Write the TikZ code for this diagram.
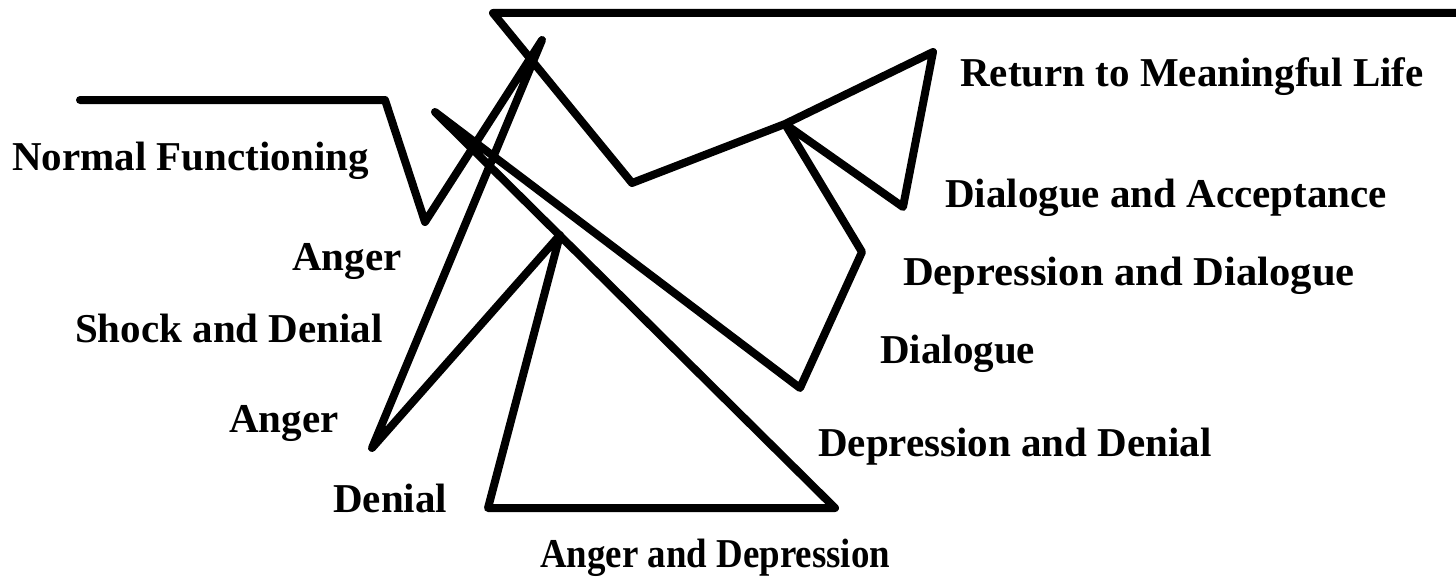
\documentclass[tikz,border=0pt]{standalone}
\usepackage{fontspec}
\setmainfont{Liberation Serif}
\begin{document}
\begin{tikzpicture}[x=1pt,y=-1pt,
  curve/.style={line width=8pt,line join=round,line cap=round},
  lbl/.style={anchor=base west,inner sep=0pt,font=\fontsize{41}{45}\selectfont\bfseries}]
\useasboundingbox (0,0) rectangle (1456,578);
% path points
\coordinate (p1) at (80,100);
\coordinate (p2) at (385,100);
\coordinate (p3) at (425,222);
\coordinate (p4) at (542,40);
\coordinate (p5) at (372,448);
\coordinate (p6) at (560,235);
\coordinate (p7) at (488,508);
\coordinate (p8) at (835,508);
\coordinate (p9) at (435,112);
\coordinate (p10) at (800,388);
\coordinate (p11) at (862,252);
\coordinate (p12) at (785,124);
\coordinate (p13) at (903,207);
\coordinate (p14) at (933,52);
\coordinate (p15) at (632,183);
\coordinate (p16) at (493,13);
\coordinate (p17) at (1460,13);
\draw[curve] (p1) -- (p2) -- (p3) -- (p4) -- (p5) -- (p6) -- (p7) -- (p8)
  -- (p9) -- (p10) -- (p11) -- (p12) -- (p13) -- (p14) -- (p12) -- (p15)
  -- (p16) -- (p17);
% labels
\node[lbl] (l1) at (960,86) {Return to Meaningful Life};
\node[lbl] (l2) at (12,170) {Normal Functioning};
\node[lbl] (l3) at (945,207) {Dialogue and Acceptance};
\node[lbl] (l4) at (292,270) {Anger};
\node[lbl] (l5) at (903,285) {\scalebox{1.04}[1]{Depression and Dialogue}};
\node[lbl] (l6) at (75,342) {Shock and Denial};
\node[lbl] (l7) at (880,363) {Dialogue};
\node[lbl] (l8) at (229,432) {Anger};
\node[lbl] (l9) at (818,456) {Depression and Denial};
\node[lbl] (l10) at (333,512) {Denial};
\node[lbl] (l11) at (540,567) {\scalebox{0.9}[1]{Anger and Depression}};
\end{tikzpicture}
\end{document}
